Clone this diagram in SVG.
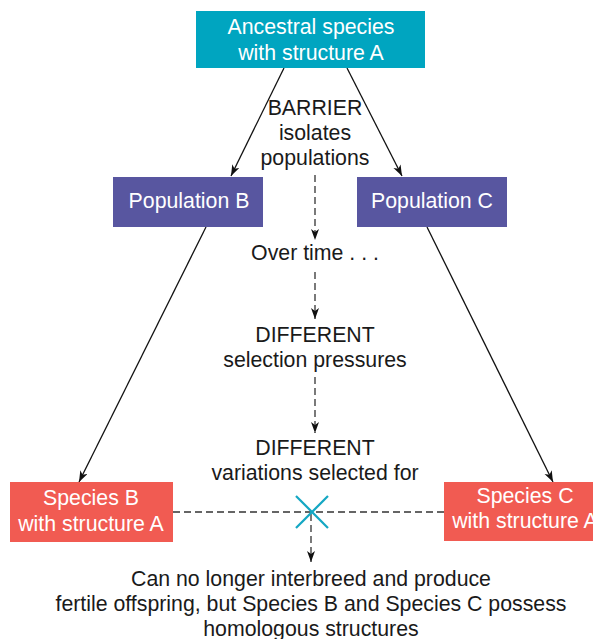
<svg xmlns="http://www.w3.org/2000/svg" width="593" height="639" viewBox="0 0 593 639">
  <style>
    text { font-family: "Liberation Sans", Arial, Helvetica, sans-serif; font-size: 21.3px; text-anchor: middle; }
    .light { fill: #ffffff; }
    .dark { fill: #1a1a1a; }
    .ancestor { fill: #00a5c0; }
    .population { fill: #5856a0; }
    .species { fill: #f15b52; }
    .solid { stroke: #111; stroke-width: 1.3; fill: none; }
    .dashed { stroke: #333; stroke-width: 1.3; fill: none; stroke-dasharray: 7 4; }
    .cross { stroke: #14a7c3; stroke-width: 2.2; fill: none; }
  </style>
  <defs>
    <marker id="arrow" markerUnits="userSpaceOnUse" markerWidth="12" markerHeight="9" refX="11" refY="4" orient="auto">
      <path d="M0,0 L11,4 L0,8 L3,4 z" fill="#111"/>
    </marker>
  </defs>

  <!-- connectors -->
  <g id="connectors">
    <line class="solid" x1="284" y1="68" x2="231" y2="176" marker-end="url(#arrow)"/>
    <line class="solid" x1="347" y1="68" x2="402" y2="176" marker-end="url(#arrow)"/>
    <line class="solid" x1="206" y1="227" x2="79" y2="482" marker-end="url(#arrow)"/>
    <line class="solid" x1="427" y1="227" x2="553" y2="482" marker-end="url(#arrow)"/>
    <line class="dashed" x1="315" y1="175" x2="315" y2="240" marker-end="url(#arrow)"/>
    <line class="dashed" x1="315" y1="272" x2="315" y2="319" marker-end="url(#arrow)"/>
    <line class="dashed" x1="315" y1="377" x2="315" y2="433" marker-end="url(#arrow)"/>
    <line class="dashed" x1="173" y1="512" x2="444" y2="512"/>
    <line class="dashed" x1="311" y1="514" x2="311" y2="562" marker-end="url(#arrow)"/>
    <g id="barrier-cross">
      <line class="cross" x1="296" y1="496" x2="328" y2="528"/>
      <line class="cross" x1="328" y1="496" x2="296" y2="528"/>
    </g>
  </g>

  <!-- ancestral species -->
  <g id="ancestral-species">
    <rect class="ancestor" x="196" y="11" width="229" height="57"/>
    <text class="light" x="311" y="34">Ancestral species</text>
    <text class="light" x="311" y="60">with structure A</text>
  </g>

  <g id="barrier-label">
    <text class="dark" x="315" y="115">BARRIER</text>
    <text class="dark" x="315" y="140">isolates</text>
    <text class="dark" x="315" y="165">populations</text>
  </g>

  <g id="population-b">
    <rect class="population" x="113" y="177" width="150" height="50"/>
    <text class="light" x="189" y="208">Population B</text>
  </g>

  <g id="population-c">
    <rect class="population" x="357" y="177" width="150" height="50"/>
    <text class="light" x="432" y="208">Population C</text>
  </g>

  <g id="over-time">
    <text class="dark" x="315" y="260">Over time . . .</text>
  </g>

  <g id="selection-pressures">
    <text class="dark" x="315" y="342">DIFFERENT</text>
    <text class="dark" x="315" y="367">selection pressures</text>
  </g>

  <g id="variations">
    <text class="dark" x="315" y="455">DIFFERENT</text>
    <text class="dark" x="315" y="480">variations selected for</text>
  </g>

  <g id="species-b">
    <rect class="species" x="10" y="482" width="163" height="60"/>
    <text class="light" x="91" y="505">Species B</text>
    <text class="light" x="91" y="531">with structure A</text>
  </g>

  <g id="species-c">
    <rect class="species" x="444" y="482" width="163" height="59"/>
    <text class="light" x="525" y="503">Species C</text>
    <text class="light" x="525" y="528">with structure A</text>
  </g>

  <g id="outcome">
    <text class="dark" x="311" y="586">Can no longer interbreed and produce</text>
    <text class="dark" x="311" y="611">fertile offspring, but Species B and Species C possess</text>
    <text class="dark" x="311" y="636">homologous structures</text>
  </g>
</svg>
